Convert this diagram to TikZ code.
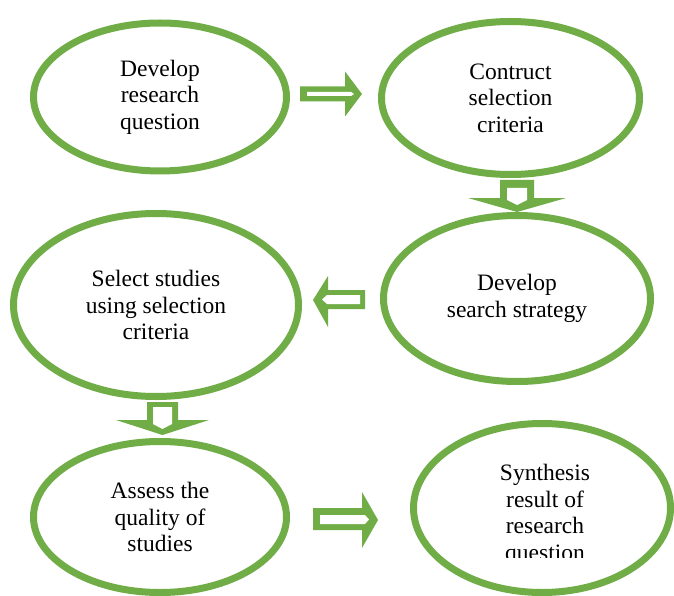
\documentclass[tikz,border=0pt]{standalone}
\usepackage{fontspec}
\setmainfont{Liberation Serif}
\usetikzlibrary{shapes.geometric}
\definecolor{lgreen}{HTML}{70AD47}
\tikzset{
  bubble/.style={ellipse, draw=lgreen, line width=7pt, inner sep=0pt, align=center,
    font=\fontsize{23.5}{26.5}\selectfont},
  arrowout/.style={fill=lgreen, draw=none},
  arrowin/.style={fill=white, draw=none},
  plain/.style={align=center, inner sep=0pt, font=\fontsize{23.5}{26.5}\selectfont},
}
\begin{document}
\begin{tikzpicture}[x=1pt,y=-1pt]
\useasboundingbox[fill=white] (0,0) rectangle (674,596);
% block arrows
% A1 right
\fill[arrowout] (300,86.5) -- (345,86.5) -- (345,71.5) -- (362,94) -- (345,116.5) -- (345,101.5) -- (300,101.5) -- cycle;
\fill[arrowin] (307,92) -- (351,92) -- (354,94) -- (351,96) -- (307,96) -- cycle;
% A2 down
\fill[arrowout] (500,180) -- (534,180) -- (534,198) -- (566,198) -- (517,212) -- (468,198) -- (500,198) -- cycle;
\fill[arrowin] (507,188) -- (527,188) -- (527,200) -- (517,205) -- (507,200) -- cycle;
% A3 left
\fill[arrowout] (365,290) -- (328,290) -- (328,276) -- (313,300) -- (328,327) -- (328,309) -- (365,309) -- cycle;
\fill[arrowin] (360,295) -- (327,295) -- (322,299.5) -- (327,304) -- (360,304) -- cycle;
% A4 down
\fill[arrowout] (147,402) -- (178,402) -- (178,420) -- (209,420) -- (162.5,435) -- (116,420) -- (147,420) -- cycle;
\fill[arrowin] (153,407) -- (172,407) -- (172,424) -- (162.5,429) -- (153,424) -- cycle;
% A5 right
\fill[arrowout] (313,508) -- (362,508) -- (362,492) -- (378,520) -- (362,548) -- (362,530) -- (313,530) -- cycle;
\fill[arrowin] (320,515) -- (365,515) -- (369,519.5) -- (365,524) -- (320,524) -- cycle;
% ellipses
\node[bubble, minimum width=253pt, minimum height=148pt] (e1) at (160,97) {Develop\\research\\question};
\node[bubble, minimum width=258pt, minimum height=153pt] (e2) at (510.5,98) {Contruct\\selection\\criteria};
\node[bubble, minimum width=267pt, minimum height=166pt] (e3) at (517,298.5) {Develop\\search strategy};
\node[bubble, minimum width=285pt, minimum height=183pt] (e4) at (156,305) {Select studies\\using selection\\criteria};
\node[bubble, minimum width=253pt, minimum height=151pt] (e5) at (160,517) {Assess the\\quality of\\studies};
\node[bubble, minimum width=257pt, minimum height=169pt] (e6) at (542,508) {};
\begin{scope}
\clip (420,440) rectangle (670,557);
\node[plain] (t6) at (545,515) {Synthesis\\result of\\research\\question};
\end{scope}
\end{tikzpicture}
\end{document}
